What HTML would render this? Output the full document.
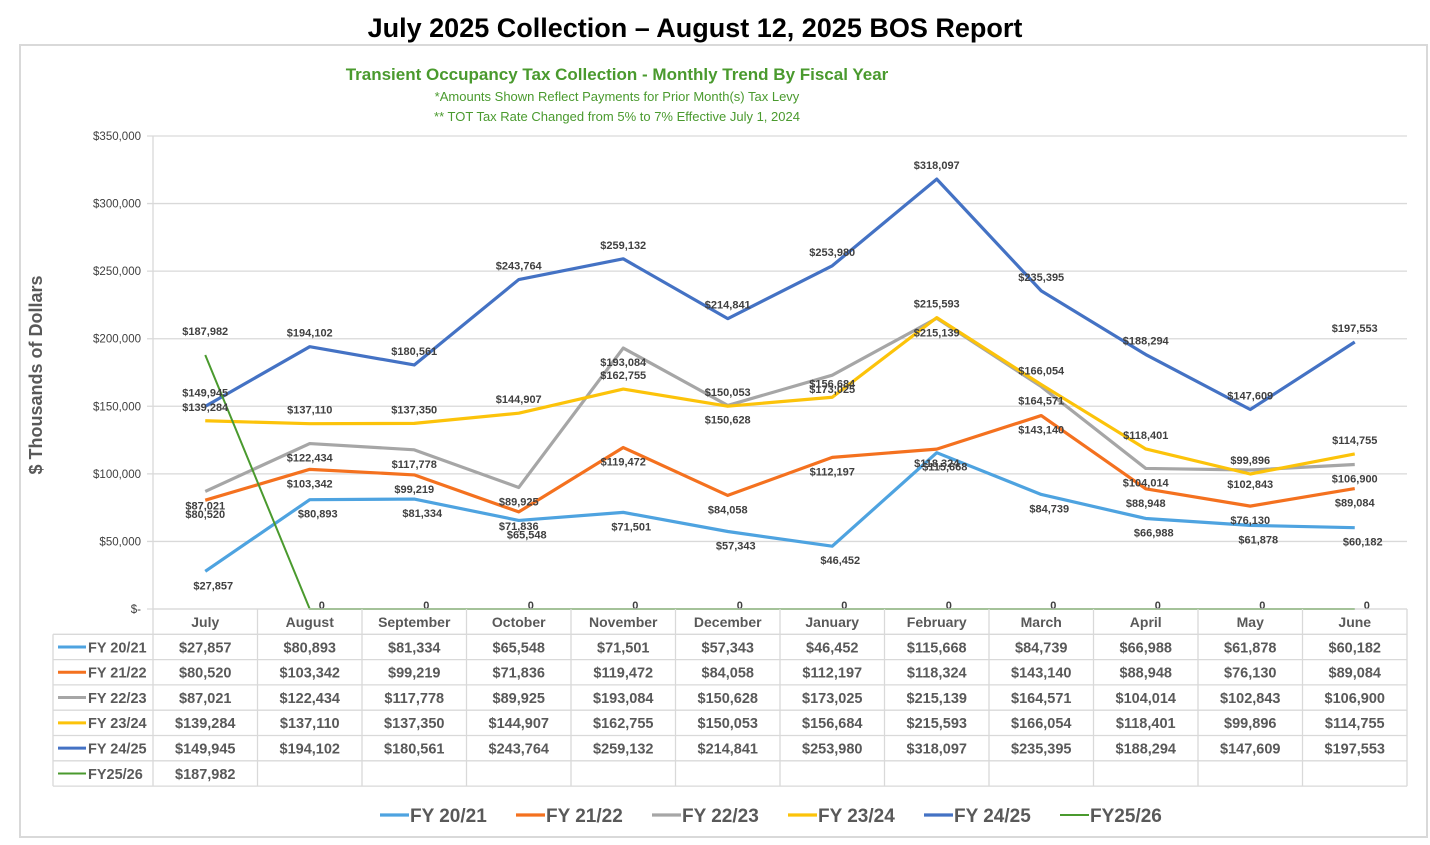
<!DOCTYPE html>
<html><head><meta charset="utf-8"><style>
body{margin:0;background:#fff;width:1430px;height:840px;overflow:hidden;font-family:"Liberation Sans",sans-serif}
svg text{font-family:"Liberation Sans",sans-serif}
</style></head><body>
<svg id="c" width="1430" height="840" xmlns="http://www.w3.org/2000/svg">
<text x="695" y="37" text-anchor="middle" font-size="27" font-weight="bold" fill="#000">July 2025 Collection – August 12, 2025 BOS Report</text>
<rect x="20" y="45" width="1407" height="792" fill="none" stroke="#d9d9d9" stroke-width="2"/>
<text x="617" y="80" text-anchor="middle" font-size="17" font-weight="bold" fill="#4a9a2e">Transient Occupancy Tax Collection - Monthly Trend By Fiscal Year</text>
<text x="617" y="101" text-anchor="middle" font-size="13" fill="#4a9a2e">*Amounts Shown Reflect Payments for Prior Month(s) Tax Levy</text>
<text x="617" y="121" text-anchor="middle" font-size="13" fill="#4a9a2e">** TOT Tax Rate Changed from 5% to 7% Effective July 1, 2024</text>
<text transform="translate(42,375) rotate(-90)" text-anchor="middle" font-size="18" font-weight="bold" fill="#595959">$ Thousands of Dollars</text>
<g id="grid"></g><g id="lines"></g><g id="labels"></g><g id="table"></g><g id="legend"></g>
</svg>
<script>
const months=["July","August","September","October","November","December","January","February","March","April","May","June"];
const seriesNames=["FY 20/21","FY 21/22","FY 22/23","FY 23/24","FY 24/25","FY25/26"];
const fy2021=[27857,80893,81334,65548,71501,57343,46452,115668,84739,66988,61878,60182];
const fy2122=[80520,103342,99219,71836,119472,84058,112197,118324,143140,88948,76130,89084];
const fy2223=[87021,122434,117778,89925,193084,150628,173025,215139,164571,104014,102843,106900];
const fy2324=[139284,137110,137350,144907,162755,150053,156684,215593,166054,118401,99896,114755];
const fy2425=[149945,194102,180561,243764,259132,214841,253980,318097,235395,188294,147609,197553];
const fy2526=[187982,0,0,0,0,0,0,0,0,0,0,0];
const yTicks=[0,50000,100000,150000,200000,250000,300000,350000];
const colors=["#4ea3e0","#f4711f","#a6a6a6","#fcc30a","#4472c4","#4a9a2e"];
const series=[fy2021,fy2122,fy2223,fy2324,fy2425,fy2526];
const NS="http://www.w3.org/2000/svg";
const L=153,R=1407,T=136,B=609,colW=(R-L)/12;
const x=i=>L+colW*(i+0.5);
const y=v=>B-(v/350000)*(B-T);
function mk(tag,attrs,parent,txt){const e=document.createElementNS(NS,tag);for(const k in attrs)e.setAttribute(k,attrs[k]);if(txt!==undefined)e.textContent=txt;document.getElementById(parent).appendChild(e);return e;}
const fmt=v=>"$"+v.toLocaleString("en-US");
yTicks.forEach(t=>{
  const g=mk("line",{x1:L-6,x2:R,y1:y(t),y2:y(t),stroke:"#d9d9d9","stroke-width":1.3},"grid");
  
  
  const tx=mk("text",{x:L-12,y:y(t)+4,"text-anchor":"end","font-size":11.5,fill:"#404040"},"grid",t===0?"$-":fmt(t));
  
  
});
const ax=mk("line",{x1:L,x2:L,y1:T,y2:B,stroke:"#d9d9d9","stroke-width":1.3},"grid");


const below=[1,1,1,0,0,0];
series.forEach((s,si)=>{
  const pts=s.map((v,i)=>x(i)+","+y(v)).join(" ");
  const p=mk("polyline",{points:pts,fill:"none",stroke:colors[si],"stroke-width":si===5?2:3.2,"stroke-linejoin":"round"},"lines");
  
  
  s.forEach((v,i)=>{
    const lbl=si===5?(i===0?fmt(v):"0"):fmt(v);
    const dy=si===5?(i===0?-20:0):(below[si]?18:-10);
    const dx=si===5&&i>0?12:(si===0?8:0);
    const t=mk("text",{x:x(i)+dx,y:y(v)+dy,"text-anchor":"middle","font-size":11,"font-weight":"bold",fill:"#404040"},"labels",lbl);
    
    
  });
});
// table
const rowTop=609,rowH=25.3,tl=53;
const hb=mk("line",{x1:L,x2:R,y1:rowTop,y2:rowTop,stroke:"#d9d9d9","stroke-width":1.3},"table");


for(let i=0;i<=12;i++){
  const l=mk("line",{x1:L+colW*i,x2:L+colW*i,y1:rowTop,y2:rowTop+rowH*7,stroke:"#d9d9d9","stroke-width":1.3},"table");
  
  
}
for(let r=1;r<=7;r++){
  const l=mk("line",{x1:tl,x2:R,y1:rowTop+rowH*r,y2:rowTop+rowH*r,stroke:"#d9d9d9","stroke-width":1.3},"table");
  
  
}
const vl=mk("line",{x1:tl,x2:tl,y1:rowTop+rowH,y2:rowTop+rowH*7,stroke:"#d9d9d9","stroke-width":1.3},"table");


months.forEach((m,i)=>{
  const t=mk("text",{x:x(i),y:rowTop+18,"text-anchor":"middle","font-size":14,"font-weight":"bold",fill:"#595959"},"table",m);
  
  
});
series.forEach((s,si)=>{
  const yy=rowTop+rowH*(si+1);
  const k=mk("line",{x1:58,x2:86,y1:yy+rowH/2,y2:yy+rowH/2,stroke:colors[si],"stroke-width":si===5?2:3},"table");
  
  
  const n=mk("text",{x:88,y:yy+18,"font-size":14.5,"font-weight":"bold",fill:"#595959"},"table",seriesNames[si]);
  
  
  s.forEach((v,i)=>{
    if(si===5&&i>0)return;
    const t=mk("text",{x:x(i),y:yy+18,"text-anchor":"middle","font-size":14.5,"font-weight":"bold",fill:"#595959"},"table",fmt(v));
    
    
  });
});
// legend
let lx=380;
seriesNames.forEach((n,si)=>{
  const k=mk("line",{x1:lx,x2:lx+29,y1:815,y2:815,stroke:colors[si],"stroke-width":si===5?2:3.2},"legend");
  
  
  const t=mk("text",{x:lx+30,y:822,"font-size":19,"font-weight":"bold",fill:"#595959"},"legend",n);
  
  
  lx+=136;
});
</script>
</body></html>
